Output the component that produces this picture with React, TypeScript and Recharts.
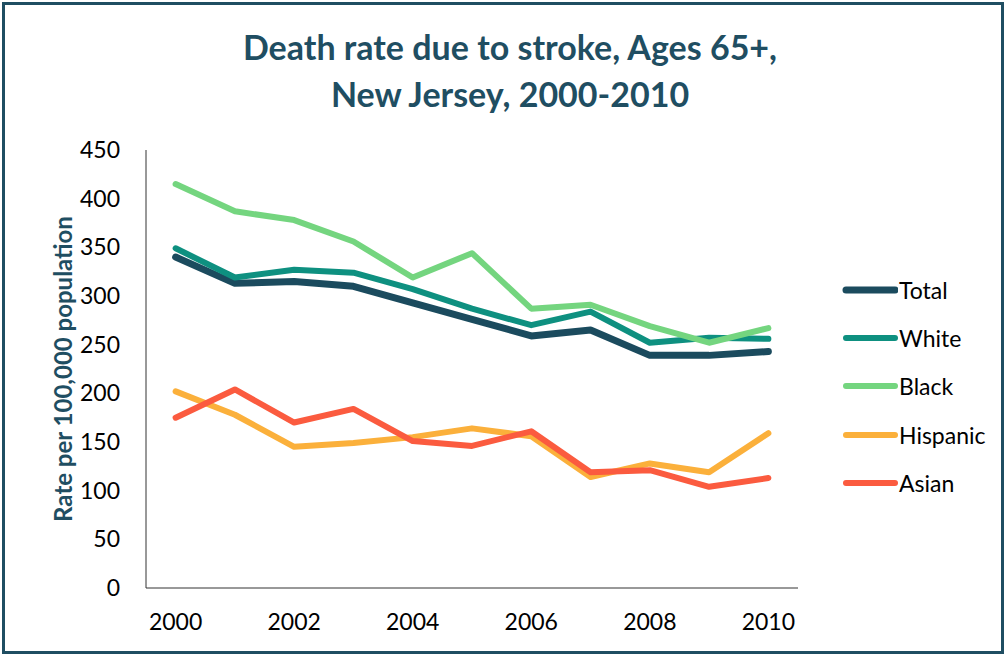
import { LineChart, Line, XAxis, YAxis } from "recharts"

const years = [2000, 2001, 2002, 2003, 2004, 2005, 2006, 2007, 2008, 2009, 2010]
const total = [340, 313, 315, 310, 293, 276, 259, 265, 239, 239, 243]
const white = [349, 319, 327, 324, 307, 287, 270, 284, 252, 257, 256]
const black = [415, 387, 378, 356, 319, 344, 287, 291, 269, 252, 267]
const hispanic = [202, 178, 145, 149, 155, 164, 156, 114, 128, 119, 159]
const asian = [175, 204, 170, 184, 151, 146, 161, 119, 121, 104, 113]

const xTicks = [2000, 2002, 2004, 2006, 2008, 2010]
const yTicks = [0, 50, 100, 150, 200, 250, 300, 350, 400, 450]

const series = [
  { key: "Total", color: "#1b4b5e", width: 7 },
  { key: "White", color: "#0e9080", width: 6 },
  { key: "Black", color: "#74d57f", width: 6 },
  { key: "Hispanic", color: "#fbb03b", width: 6 },
  { key: "Asian", color: "#fb5b3f", width: 6 },
]

const data = years.map((year, i) => ({
  year,
  Total: total[i],
  White: white[i],
  Black: black[i],
  Hispanic: hispanic[i],
  Asian: asian[i],
}))

const font = "Lato, 'Open Sans', sans-serif"

function ChartLegend() {
  return (
    <div style={{ position: "absolute", left: 840, top: 266, fontFamily: font }}>
      {series.map((s) => (
        <div key={s.key} style={{ display: "flex", alignItems: "center", height: 48.2 }}>
          <svg width={58} height={10}>
            <line x1={6} y1={5} x2={55} y2={5} stroke={s.color} strokeWidth={s.width} strokeLinecap="round" />
          </svg>
          <span style={{ fontSize: 23, color: "#000", marginLeft: 1 }}>{s.key}</span>
        </div>
      ))}
    </div>
  )
}

export default function App() {
  return (
    <div style={{ position: "absolute", left: 0, top: 0, width: 1006, height: 654, background: "#fff" }}>
      <div
        style={{
          position: "absolute",
          left: 2,
          top: 2,
          width: 996,
          height: 646,
          border: "3px solid #1f4e62",
          boxSizing: "content-box",
        }}
      />
      <div
        style={{
          position: "absolute",
          left: 0,
          top: 23,
          width: 1020,
          textAlign: "center",
          fontFamily: font,
          fontWeight: 700,
          fontSize: 34,
          lineHeight: "47px",
          color: "#1f4e62",
        }}
      >
        Death rate due to stroke, Ages 65+,
        <br />
        New Jersey, 2000-2010
      </div>
      <LineChart
        width={1006}
        height={654}
        data={data}
        margin={{ top: 150, right: 208, bottom: 26, left: 0 }}
        style={{ position: "absolute", left: 0, top: 0 }}
      >
        <XAxis
          dataKey="year"
          type="number"
          domain={[1999.5, 2010.5]}
          ticks={xTicks}
          tickLine={false}
          tickMargin={20}
          height={40}
          axisLine={{ stroke: "#333", strokeWidth: 1 }}
          tick={{ fontSize: 23, fill: "#000", fontFamily: font }}
        />
        <YAxis
          domain={[0, 450]}
          ticks={yTicks}
          width={146}
          tickLine={false}
          tickMargin={20}
          axisLine={{ stroke: "#333", strokeWidth: 1 }}
          tick={{ fontSize: 23, fill: "#000", fontFamily: font }}
          label={{
            value: "Rate per 100,000 population",
            angle: -90,
            position: "insideLeft",
            offset: 63,
            style: { textAnchor: "middle", fontSize: 24, fontWeight: 700, fill: "#1f4e62", fontFamily: font },
          }}
        />
        {series.map((s) => (
          <Line
            key={s.key}
            dataKey={s.key}
            stroke={s.color}
            strokeWidth={s.width}
            dot={false}
            activeDot={false}
            isAnimationActive={false}
            type="linear"
            strokeLinecap="round"
            strokeLinejoin="round"
          />
        ))}
      </LineChart>
      <ChartLegend />
    </div>
  )
}
